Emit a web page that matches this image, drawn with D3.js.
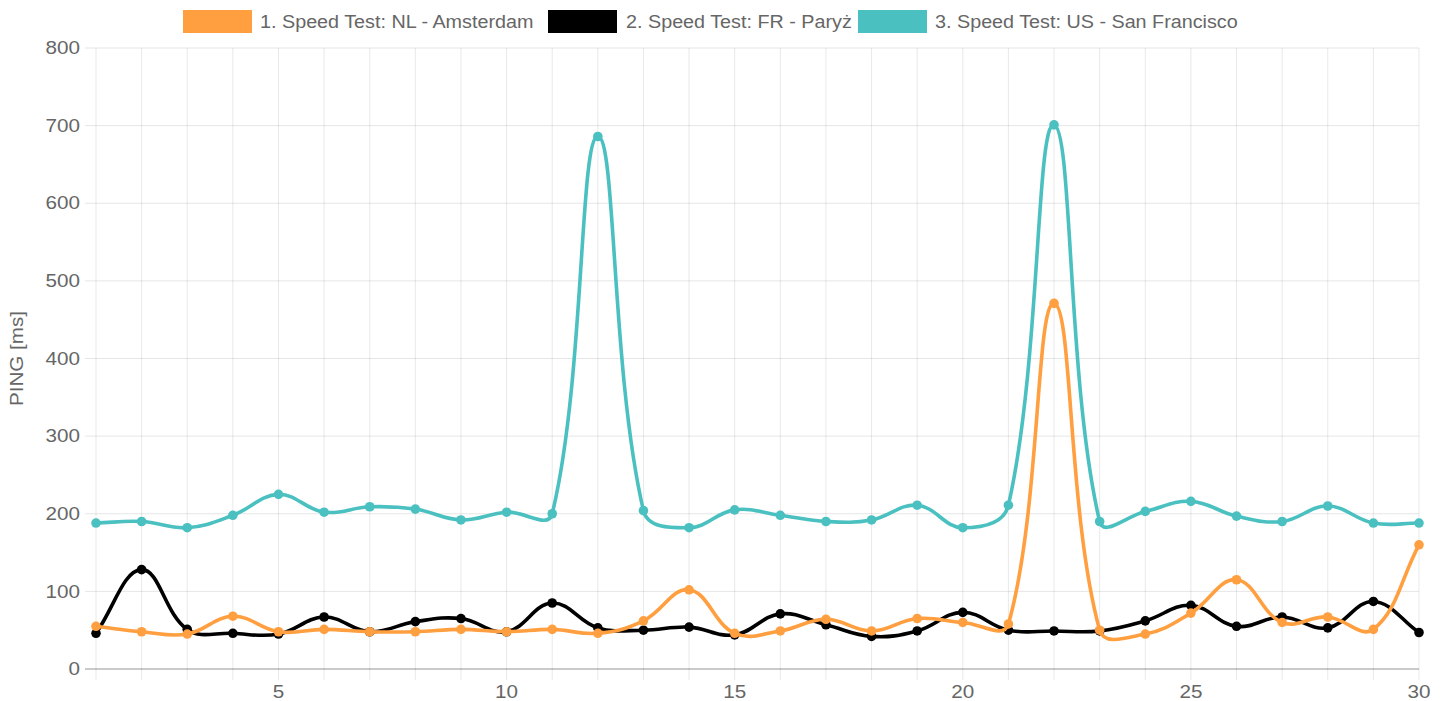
<!DOCTYPE html>
<html>
<head>
<meta charset="utf-8">
<script src="https://cdn.jsdelivr.net/npm/d3@7"></script>
<style>
  html, body { margin: 0; padding: 0; background: #fff; }
  svg { display: block; }
  text { font-family: "Liberation Sans", Arial, sans-serif; fill: #666; }
</style>
</head>
<body>
<svg id="chart" width="1447" height="701"></svg>
<script>
// ---- data ----
const categories = d3.range(1, 31);
const seriesNames = [
  "1. Speed Test: NL - Amsterdam",
  "2. Speed Test: FR - Paryż",
  "3. Speed Test: US - San Francisco"
];
const seriesColors = ["rgb(255,159,64)", "#000000", "rgb(75,192,192)"];
const amsterdam = [55, 48, 45, 68, 48, 51, 48, 48, 51, 48, 51, 46, 62, 102, 46, 49, 64, 49, 65, 60, 58, 471, 50, 45, 72, 115, 60, 67, 51, 160];
const paris     = [46, 128, 51, 46, 45, 67, 48, 61, 65, 48, 85, 53, 50, 54, 44, 71, 57, 42, 49, 73, 50, 49, 49, 62, 82, 55, 67, 53, 87, 47];
const sanFran   = [188, 190, 182, 198, 225, 202, 209, 206, 192, 202, 200, 686, 204, 182, 205, 198, 190, 192, 211, 182, 211, 701, 190, 203, 216, 197, 190, 210, 188, 188];
const yTicks = [0, 100, 200, 300, 400, 500, 600, 700, 800];
const xTickLabels = [5, 10, 15, 20, 25, 30];
const yLabel = "PING [ms]";

// ---- layout ----
const svg = d3.select("#chart");
const pLeft = 96, pRight = 1419, pTop = 48, pBottom = 669;
const x = d3.scaleLinear().domain([1, 30]).range([pLeft, pRight]);
const y = d3.scaleLinear().domain([0, 800]).range([pBottom, pTop]);
const SX = 1.18; // horizontal stretch of text in reference
const fontSize = 17.5;

function stretchedText(g, px, py, str, anchor, extra, sx) {
  const t = g.append("g").attr("transform", `translate(${px},${py}) scale(${sx || SX},1)`)
    .append("text").attr("text-anchor", anchor).attr("font-size", fontSize).text(str);
  if (extra) extra(t);
  return t;
}

// grid lines
const grid = svg.append("g");
grid.selectAll("line.v").data(categories).join("line")
  .attr("x1", d => x(d)).attr("x2", d => x(d))
  .attr("y1", pTop).attr("y2", pBottom + 11)
  .attr("stroke", "rgba(0,0,0,0.09)").attr("stroke-width", 1);
grid.selectAll("line.h").data(yTicks).join("line")
  .attr("x1", pLeft - 11).attr("x2", pRight)
  .attr("y1", d => y(d)).attr("y2", d => y(d))
  .attr("stroke", d => d === 0 ? "rgba(0,0,0,0.28)" : "rgba(0,0,0,0.1)").attr("stroke-width", d => d === 0 ? 1.5 : 1);

// y tick labels
const yl = svg.append("g");
yTicks.forEach(v => stretchedText(yl, 80, y(v), v, "end", t => t.attr("dy", "0.35em")));
// x tick labels
const xl = svg.append("g");
xTickLabels.forEach(v => stretchedText(xl, x(v), 698, v, "middle"));
// y axis title
svg.append("g").attr("transform", `translate(23,${(pTop + pBottom) / 2}) rotate(-90) scale(${SX},1)`)
  .append("text").attr("text-anchor", "middle").attr("font-size", fontSize).text(yLabel);

// Chart.js-like spline curve (tension 0.4)
function ChartSpline(context) { this._context = context; }
ChartSpline.prototype = {
  areaStart() {}, areaEnd() {},
  lineStart() { this._pts = []; },
  point(px, py) { this._pts.push([+px, +py]); },
  lineEnd() {
    const p = this._pts, n = p.length, t = 0.4, ctx = this._context;
    if (!n) return;
    const clampY = v => Math.max(pTop, Math.min(pBottom, v));
    const cps = p.map((c, i) => {
      const prev = p[i - 1] || c, next = p[i + 1] || c;
      const d01 = Math.hypot(c[0] - prev[0], c[1] - prev[1]);
      const d12 = Math.hypot(next[0] - c[0], next[1] - c[1]);
      let s01 = d01 / (d01 + d12), s12 = d12 / (d01 + d12);
      if (isNaN(s01)) s01 = 0; if (isNaN(s12)) s12 = 0;
      const fa = t * s01, fb = t * s12;
      return {
        prev: [c[0] - fa * (next[0] - prev[0]), clampY(c[1] - fa * (next[1] - prev[1]))],
        next: [c[0] + fb * (next[0] - prev[0]), clampY(c[1] + fb * (next[1] - prev[1]))]
      };
    });
    ctx.moveTo(p[0][0], p[0][1]);
    for (let i = 1; i < n; i++) {
      ctx.bezierCurveTo(cps[i - 1].next[0], cps[i - 1].next[1], cps[i].prev[0], cps[i].prev[1], p[i][0], p[i][1]);
    }
  }
};
const chartSpline = ctx => new ChartSpline(ctx);

const series = [amsterdam, paris, sanFran];
const line = d3.line().x((d, i) => x(categories[i])).y(d => y(d)).curve(chartSpline);

// draw last dataset first so dataset 1 is on top
const plot = svg.append("g");
[2, 1, 0].forEach(si => {
  const g = plot.append("g");
  g.append("path").datum(series[si]).attr("d", line)
    .attr("fill", "none").attr("stroke", seriesColors[si]).attr("stroke-width", 3.6)
    .attr("stroke-linejoin", "round");
  g.selectAll("circle").data(series[si]).join("circle")
    .attr("cx", (d, i) => x(categories[i])).attr("cy", d => y(d)).attr("r", 4.8)
    .attr("fill", seriesColors[si]);
});

// legend
const legendItems = [
  { box: 183, text: 260 },
  { box: 548, text: 626 },
  { box: 858, text: 935 }
];
const lg = svg.append("g");
seriesNames.forEach((name, i) => {
  lg.append("rect").attr("x", legendItems[i].box).attr("y", 10).attr("width", 69).attr("height", 23)
    .attr("fill", seriesColors[i]);
  stretchedText(lg, legendItems[i].text, 22, name, "start", t => t.attr("dy", "0.35em"), 1.13);
});
</script>
</body>
</html>
